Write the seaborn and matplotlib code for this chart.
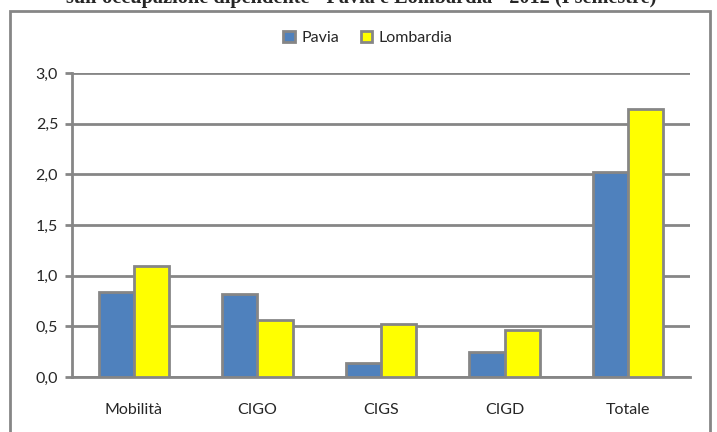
import pandas as pd
import numpy as np
import matplotlib.pyplot as plt
import seaborn as sns
from matplotlib.patches import Rectangle

categories = ['Mobilità', 'CIGO', 'CIGS', 'CIGD', 'Totale']
pavia = [0.84, 0.82, 0.14, 0.25, 2.02]
lombardia = [1.10, 0.56, 0.52, 0.46, 2.64]
yticks = [0.0, 0.5, 1.0, 1.5, 2.0, 2.5, 3.0]
ytick_labels = ['0,0', '0,5', '1,0', '1,5', '2,0', '2,5', '3,0']

df = pd.DataFrame({
    'cat': categories * 2,
    'val': pavia + lombardia,
    'area': ['Pavia'] * 5 + ['Lombardia'] * 5,
})

sns.set_style('white')
plt.rcParams['font.family'] = ['Lato', 'DejaVu Sans']
grey = '#868686'

fig = plt.figure(figsize=(7.17, 4.32), dpi=100)
ax = fig.add_axes([72 / 717, 1 - 377 / 432, 618 / 717, 304 / 432])

sns.barplot(data=df, x='cat', y='val', hue='area', palette=['#4f81bd', '#ffff00'],
            saturation=1, width=0.57, edgecolor=grey, linewidth=2, ax=ax, zorder=3)

ax.set_ylim(0, 3.0)
ax.set_xlim(-0.5, 4.5)
ax.set_yticks(yticks)
ax.set_yticklabels(ytick_labels, fontsize=11.5)
ax.tick_params(axis='x', labelsize=11.5, length=0, pad=19)
ax.tick_params(axis='y', length=5, width=2, color=grey, direction='out', pad=5, left=True)
ax.set_xlabel('')
ax.set_ylabel('')
ax.grid(axis='y', color=grey, linewidth=2, zorder=0)
ax.set_axisbelow(True)
for s in ['top', 'right']:
    ax.spines[s].set_visible(False)
ax.spines['left'].set_color(grey)
ax.spines['left'].set_linewidth(2)
ax.spines['bottom'].set_color(grey)
ax.spines['bottom'].set_linewidth(2)

leg = ax.legend(loc='center', bbox_to_anchor=(368 / 717, 1 - 38 / 432), bbox_transform=fig.transFigure,
                ncol=2, frameon=False, fontsize=11.5, handlelength=0.7, handleheight=0.7,
                handletextpad=0.4, columnspacing=1.4)

# outer chart frame
fig.patches.append(Rectangle((10 / 717, -0.05), 700 / 717, 1.05 - 11 / 432,
                             transform=fig.transFigure, fill=False,
                             edgecolor=grey, linewidth=2))

# clipped title at the top
fig.text(361 / 717, 1 - 3 / 432, "sull'occupazione dipendente - Pavia e Lombardia - 2012 (I semestre)",
         ha='center', va='baseline', fontsize=14.6, fontweight='bold', family='Liberation Serif')

fig.savefig('out.png', dpi=100)
